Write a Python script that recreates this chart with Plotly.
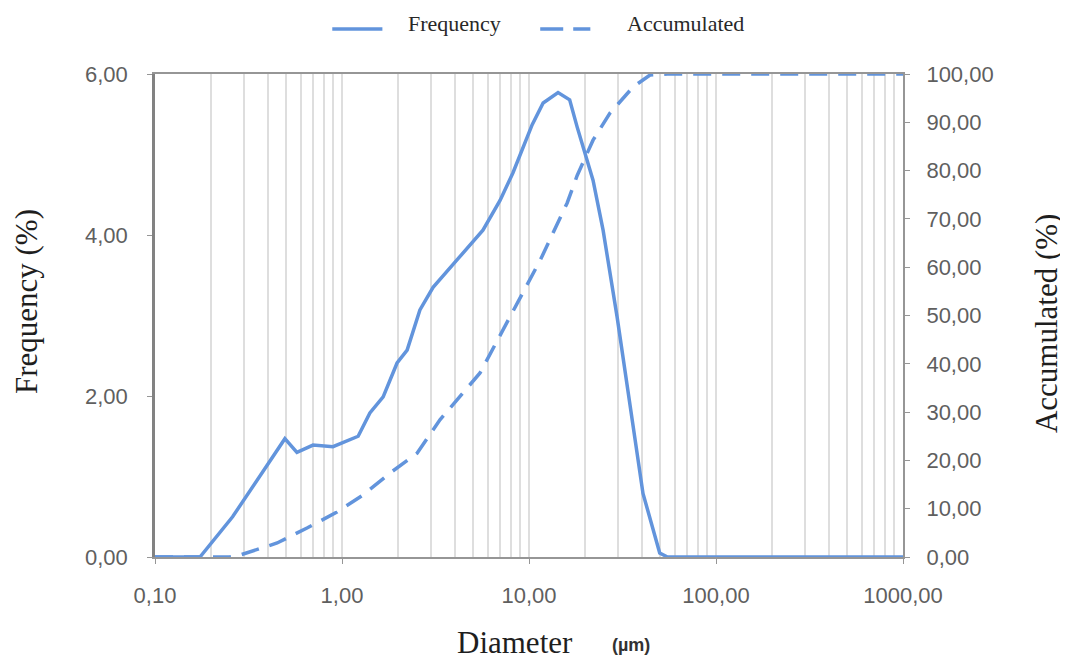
import plotly.graph_objects as go

# ---- data ----
freq_diameter = [0.10, 0.174, 0.26, 0.364, 0.495, 0.574, 0.70, 0.895, 1.22, 1.41, 1.66, 1.97,
                 2.23, 2.61, 3.07, 4.12, 5.67, 7.0, 8.2, 10.4, 11.9, 14.3, 16.5, 18.1,
                 20.2, 22.0, 24.9, 29.6, 40.7, 50.0, 55.0, 1000.0]
frequency = [0.00, 0.00, 0.50, 1.00, 1.47, 1.30, 1.39, 1.37, 1.50, 1.79, 1.99, 2.41,
             2.57, 3.07, 3.35, 3.69, 4.06, 4.43, 4.77, 5.37, 5.64, 5.77, 5.68, 5.34,
             4.97, 4.68, 4.06, 2.98, 0.79, 0.05, 0.00, 0.00]

acc_diameter = [0.10, 0.25, 0.285, 0.45, 0.65, 0.94, 1.29, 1.81, 2.52, 3.34, 5.47, 7.9,
                11.5, 16.0, 18.1, 22.0, 27.1, 36.0, 44.4, 55.0, 1000.0]
accumulated = [0.0, 0.0, 0.4, 2.9, 6.0, 9.3, 12.8, 17.4, 21.5, 28.4, 38.1, 49.7,
               61.5, 73.3, 79.0, 86.3, 91.9, 97.3, 99.8, 100.0, 100.0]

x_tickvals = [0.1, 1, 10, 100, 1000]
x_ticktext = ["0,10", "1,00", "10,00", "100,00", "1000,00"]
y1_tickvals = [0, 2, 4, 6]
y1_ticktext = ["0,00", "2,00", "4,00", "6,00"]
y2_tickvals = list(range(0, 101, 10))
y2_ticktext = [f"{v},00" for v in y2_tickvals]

LINE = "rgb(98,148,220)"
AXIS = "rgb(150,150,150)"
GRID = "rgb(222,222,222)"
TICKFONT = dict(family="Liberation Sans, Arial", size=22, color="rgb(95,95,95)")
SERIF = "Liberation Serif, Times New Roman"
DASH = "18px,11px"

minor_vals = [m * 10.0 ** e for e in range(-1, 3) for m in range(2, 10)]

fig = go.Figure()
fig.add_trace(go.Scatter(x=freq_diameter, y=frequency, mode="lines", name="Frequency",
                         line=dict(color=LINE, width=3.5), showlegend=False))
fig.add_trace(go.Scatter(x=acc_diameter, y=accumulated, mode="lines", name="Accumulated",
                         yaxis="y2", line=dict(color=LINE, width=3.5, dash=DASH),
                         showlegend=False))

fig.update_layout(
    width=1060, height=656,
    margin=dict(l=147, r=165, t=66, b=107),
    paper_bgcolor="white", plot_bgcolor="white",
    xaxis=dict(type="log", range=[-1, 3], tickvals=x_tickvals, ticktext=x_ticktext,
               showgrid=True, gridcolor=GRID, gridwidth=1.5,
               minor=dict(tickvals=minor_vals, showgrid=True, gridcolor=GRID, gridwidth=1.5, ticks=""),
               ticks="outside", ticklen=5, tickcolor=AXIS, ticklabelstandoff=13,
               showline=True, linecolor=AXIS, linewidth=2, mirror=True,
               tickfont=TICKFONT, zeroline=False),
    yaxis=dict(range=[0, 6], tickvals=y1_tickvals, ticktext=y1_ticktext,
               showgrid=False, zeroline=False, ticks="outside", ticklen=5, tickcolor=AXIS,
               ticklabelstandoff=15,
               showline=True, linecolor="rgb(130,130,130)", linewidth=2.5, tickfont=TICKFONT),
    yaxis2=dict(range=[0, 100], tickvals=y2_tickvals, ticktext=y2_ticktext,
                overlaying="y", side="right", showgrid=False, zeroline=False,
                ticks="outside", ticklen=5, tickcolor=AXIS, ticklabelstandoff=12,
                showline=True, linecolor=AXIS, linewidth=2, tickfont=TICKFONT),
    showlegend=False,
)


def note(x, y, text, font, angle=0):
    fig.add_annotation(xref="paper", yref="paper", x=x, y=y, text=text, showarrow=False,
                       xanchor="center", yanchor="middle", textangle=angle, font=font)


# manual legend (paper coordinates)
ly = 1.093
fig.add_shape(type="line", xref="paper", yref="paper", x0=0.237, x1=0.304, y0=ly, y1=ly,
              line=dict(color=LINE, width=3.5))
fig.add_shape(type="line", xref="paper", yref="paper", x0=0.515, x1=0.582, y0=ly, y1=ly,
              line=dict(color=LINE, width=3.5, dash="23px,10px"))
note(0.401, 1.105, "Frequency", dict(family=SERIF, size=22, color="rgb(40,40,40)"))
note(0.709, 1.105, "Accumulated", dict(family=SERIF, size=22, color="rgb(40,40,40)"))

# axis titles
note(-0.171, 0.528, "Frequency (%)", dict(family=SERIF, size=31, color="rgb(30,30,30)"), -90)
note(1.191, 0.484, "Accumulated (%)", dict(family=SERIF, size=31, color="rgb(30,30,30)"), -90)
note(0.481, -0.178, "Diameter", dict(family=SERIF, size=31, color="rgb(30,30,30)"))
note(0.637, -0.183, "<b>(µm)</b>", dict(family="Liberation Sans, Arial", size=18, color="rgb(50,50,50)"))

fig.write_html("out.html")
